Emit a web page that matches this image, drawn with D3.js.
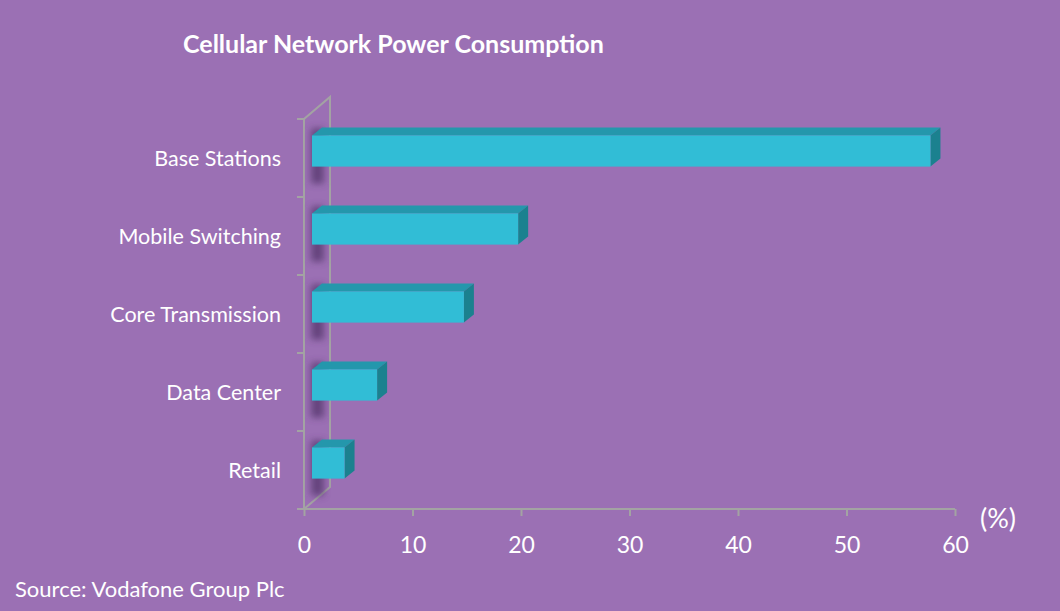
<!DOCTYPE html>
<html>
<head>
<meta charset="utf-8">
<script src="https://cdn.jsdelivr.net/npm/d3@7"></script>
<style>
  html, body { margin: 0; padding: 0; background: #9b70b4; }
  svg { display: block; font-family: Lato, "Open Sans", sans-serif; }
</style>
</head>
<body>
<div id="chart"></div>
<script>
const categories = ['Base Stations', 'Mobile Switching', 'Core Transmission', 'Data Center', 'Retail'];
const values = [57, 19, 14, 6, 3];
const xTicks = [0, 10, 20, 30, 40, 50, 60];

const width = 1060, height = 611;
const colours = { front: '#31bdd6', top: '#2497ac', side: '#1b818f', axis: '#a3a3a3', shadow: '#52346a' };

// 3d depth offsets (front plane -> back wall, bar front, bar back)
const wall = { dx: 26, dy: -22 };
const barFront = { dx: 8, dy: -7 };
const barBack = { dx: 18, dy: -15 };

const svg = d3.select('#chart')
  .append('svg')
  .attr('width', width)
  .attr('height', height);

svg.append('rect').attr('width', width).attr('height', height).attr('fill', '#9b70b4');

const defs = svg.append('defs');
defs.append('filter')
    .attr('id', 'blur')
    .attr('x', '-50%').attr('y', '-50%').attr('width', '200%').attr('height', '200%')
  .append('feGaussianBlur')
    .attr('stdDeviation', 3.5);

const x = d3.scaleLinear()
  .domain([0, 60])
  .range([304, 955]);

const y = d3.scaleBand()
  .domain(categories)
  .range([119, 509]);

const barH = y.bandwidth() * 0.4;

// title
svg.append('text')
  .attr('x', 183)
  .attr('y', 53)
  .attr('fill', '#fff')
  .attr('font-weight', 'bold')
  .attr('font-size', 25)
  .text('Cellular Network Power Consumption');

// axis frame: front vertical, back wall vertical and the two diagonals
const axisG = svg.append('g')
  .attr('stroke', colours.axis)
  .attr('stroke-width', 2)
  .attr('fill', 'none');

const y0 = y.range()[0], y1 = y.range()[1], x0 = x(0);
axisG.append('path')
  .attr('d', `M${x0},${y1}V${y0}l${wall.dx},${wall.dy}V${y1 + wall.dy}L${x0},${y1}`);

// left ticks at band boundaries
const bounds = categories.map(c => y(c)).concat([y1]);
axisG.selectAll('line.ytick')
  .data(bounds)
  .enter()
  .append('line')
    .attr('class', 'ytick')
    .attr('x1', x0 - 7)
    .attr('x2', x0)
    .attr('y1', d => d)
    .attr('y2', d => d);

// x axis
const xAxis = svg.append('g')
  .attr('transform', `translate(0, ${y1})`)
  .call(d3.axisBottom(x).tickValues(xTicks).tickSize(7).tickSizeOuter(0).tickPadding(21));

xAxis.select('.domain')
  .attr('stroke', colours.axis)
  .attr('stroke-width', 2)
  .attr('d', `M${x0 - 7},0H${x(60)}`);
xAxis.selectAll('.tick line').attr('stroke', colours.axis).attr('stroke-width', 2);
xAxis.selectAll('.tick text')
  .attr('fill', '#fff')
  .attr('font-size', 23)
  .attr('font-family', 'Lato, "Open Sans", sans-serif');

svg.append('text')
  .attr('x', 980)
  .attr('y', 528)
  .attr('fill', '#fff')
  .attr('font-size', 27)
  .text('(%)');

// category labels
svg.selectAll('text.cat')
  .data(categories)
  .enter()
  .append('text')
    .attr('class', 'cat')
    .attr('x', 281)
    .attr('y', d => y(d) + y.bandwidth() / 2 + 8)
    .attr('text-anchor', 'end')
    .attr('fill', '#fff')
    .attr('font-size', 21.5)
    .text(d => d);

const rows = categories.map((c, i) => ({ cat: c, value: values[i] }));

// soft shadow on the back wall
svg.selectAll('rect.shadow')
  .data(rows)
  .enter()
  .append('rect')
    .attr('class', 'shadow')
    .attr('x', x0 + 7)
    .attr('y', d => y(d.cat) + y.bandwidth() / 2 - barH / 2 - 14)
    .attr('width', 13)
    .attr('height', barH + 24)
    .attr('fill', colours.shadow)
    .attr('opacity', 0.75)
    .attr('filter', 'url(#blur)');

// bars
const bars = svg.selectAll('g.bar')
  .data(rows)
  .enter()
  .append('g')
    .attr('class', 'bar');

const bTop = d => y(d.cat) + y.bandwidth() / 2 - barH / 2 + barFront.dy;
const ddx = barBack.dx - barFront.dx, ddy = barBack.dy - barFront.dy;

bars.append('path')
  .attr('fill', colours.top)
  .attr('d', d => {
    const xa = x(0) + barFront.dx, xb = x(d.value) + barFront.dx, yt = bTop(d);
    return `M${xa},${yt}L${xa + ddx},${yt + ddy}H${xb + ddx}L${xb},${yt}Z`;
  });

bars.append('path')
  .attr('fill', colours.side)
  .attr('d', d => {
    const xb = x(d.value) + barFront.dx, yt = bTop(d);
    return `M${xb},${yt}L${xb + ddx},${yt + ddy}V${yt + ddy + barH}L${xb},${yt + barH}Z`;
  });

bars.append('rect')
  .attr('fill', colours.front)
  .attr('x', x(0) + barFront.dx)
  .attr('y', d => bTop(d))
  .attr('width', d => x(d.value) - x(0))
  .attr('height', barH);

// source
svg.append('text')
  .attr('x', 15)
  .attr('y', 597)
  .attr('fill', '#fff')
  .attr('font-size', 22)
  .text('Source: Vodafone Group Plc');
</script>
</body>
</html>
